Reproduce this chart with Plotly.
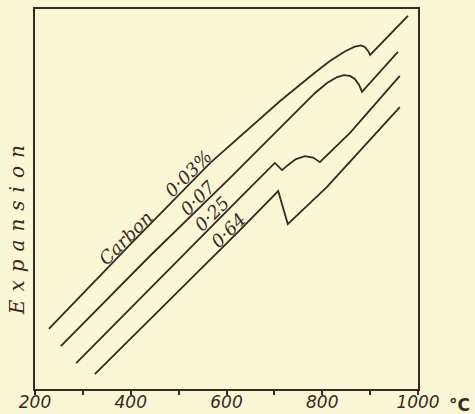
import plotly.graph_objects as go

# temperature (deg C) and expansion (arbitrary units)
t_003 = [229, 398, 566, 712, 781, 816, 848, 868, 881, 889, 896, 900, 979]
e_003 = [15.8, 37.9, 59.5, 75.8, 82.9, 86.3, 88.9, 90.1, 90.4, 90.0, 88.9, 87.9, 98.2]

t_007 = [254, 440, 607, 754, 785, 810, 831, 845, 858, 868, 877, 883, 958]
e_007 = [11.3, 35.0, 55.5, 73.9, 77.9, 80.5, 82.1, 82.6, 82.4, 81.6, 80.0, 78.2, 88.7]

t_025 = [286, 461, 628, 701, 716, 728, 745, 764, 781, 795, 858, 962]
e_025 = [6.8, 29.2, 50.3, 59.5, 57.6, 58.9, 60.5, 61.3, 60.9, 59.7, 67.4, 82.4]

t_064 = [325, 503, 628, 708, 728, 810, 879, 962]
e_064 = [3.9, 26.1, 41.8, 52.1, 43.4, 53.2, 62.6, 74.2]

# curve labels: text, position (deg C, expansion)
label_text = ["Carbon", "0·03%", "0·07", "0·25", "0·64"]
label_t = [388, 520, 540, 570, 603]
label_e = [39.7, 56.6, 50.5, 46.1, 41.8]

tick_vals = [200, 300, 400, 500, 600, 700, 800, 900, 1000]
tick_text = ["200", "", "400", "", "600", "", "800", "", "1000"]

ink = "#3a2822"
paper = "#f9f7d6"

fig = go.Figure()
for t, e in [(t_003, e_003), (t_007, e_007), (t_025, e_025), (t_064, e_064)]:
    fig.add_trace(go.Scatter(x=t, y=e, mode="lines",
                             line=dict(color=ink, width=1.8),
                             showlegend=False, hoverinfo="skip"))

for txt, t, e in zip(label_text, label_t, label_e):
    fig.add_annotation(x=t, y=e, text=txt, showarrow=False, textangle=-45,
                       xanchor="center", yanchor="middle",
                       font=dict(family="DejaVu Serif", size=18, color=ink, style="italic"))

# unit after the last tick label
fig.add_annotation(x=1.108, y=0, xref="paper", yref="paper", text="°C",
                   showarrow=False, xanchor="center", yanchor="top", yshift=-4,
                   font=dict(family="DejaVu Sans", size=17, color=ink, weight="bold"))

fig.add_annotation(x=-0.047, y=0.418, xref="paper", yref="paper",
                   text="E\u2009\u2009x\u2009\u2009p\u2009\u2009a\u2009\u2009n\u2009\u2009s\u2009\u2009i\u2009\u2009o\u2009\u2009n",
                   showarrow=False, textangle=-90, xanchor="center", yanchor="middle",
                   font=dict(family="DejaVu Serif", size=20, color=ink, style="italic"))

fig.update_xaxes(range=[200, 1000], tickvals=tick_vals, ticktext=tick_text,
                 ticks="outside", ticklen=4, tickwidth=1.5, tickcolor=ink,
                 ticklabelstandoff=-7,
                 showline=True, linecolor=ink, linewidth=2, mirror=True,
                 showgrid=False, zeroline=False, automargin=False,
                 tickfont=dict(family="DejaVu Sans", size=17, color=ink, style="italic"))
fig.update_yaxes(range=[0, 100], showticklabels=False, ticks="",
                 showline=True, linecolor=ink, linewidth=2, mirror=True,
                 showgrid=False, zeroline=False, automargin=False)

fig.update_layout(width=475, height=414, margin=dict(l=35, r=57, t=9, b=25),
                  paper_bgcolor=paper, plot_bgcolor=paper)

fig.write_html("out.html", config={"displayModeBar": False},
               post_script="document.body.style.margin='0';")
